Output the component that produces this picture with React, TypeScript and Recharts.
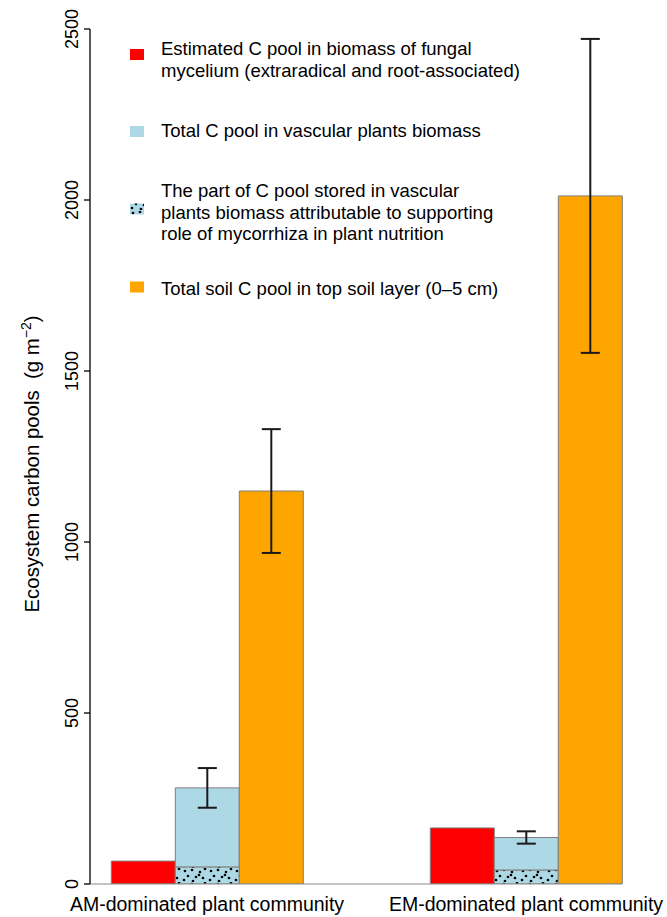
import React from 'react';
import { BarChart, Bar, XAxis, YAxis, ErrorBar } from 'recharts';

const categories = ['AM-dominated plant community', 'EM-dominated plant community'];
const fungalC = [67, 164];
const plantTotalC = [281, 136];
const plantMycorrhizalC = [50, 41];
const plantErr = [58, 18];
const soilC = [1149, 2012];
const soilErr = [181, 459];
const yTicks = [0, 500, 1000, 1500, 2000, 2500];

const legendItems = [
  { key: 'fungal', lines: ['Estimated C pool in biomass of fungal', 'mycelium (extraradical and root-associated)'] },
  { key: 'plant', lines: ['Total C pool in vascular plants biomass'] },
  { key: 'myco', lines: ['The part of C pool stored in vascular', 'plants biomass attributable to supporting', 'role of mycorrhiza in plant nutrition'] },
  { key: 'soil', lines: ['Total soil C pool in top soil layer (0\u20135 cm)'] },
];

const data = categories.map((name, i) => ({
  name,
  fungal: fungalC[i],
  myco: plantMycorrhizalC[i],
  plantRest: plantTotalC[i] - plantMycorrhizalC[i],
  plantErr: plantErr[i],
  soil: soilC[i],
  soilErr: soilErr[i],
}));

const FONT = '"Liberation Sans", Arial, Helvetica, sans-serif';
const RED = '#FF0000';
const BLUE = '#ADD8E6';
const ORANGE = '#FFA500';
const BORDER = '#7f7f7f';

const legendFill: Record<string, string> = {
  fungal: RED,
  plant: BLUE,
  myco: 'url(#stippleLegend)',
  soil: ORANGE,
};
const legendLayout = [
  { sq: 54.5, base: 55 },
  { sq: 131.5, base: 137 },
  { sq: 209, base: 197 },
  { sq: 287, base: 295 },
];

const dots: [number, number][] = [
  [3, 3], [10, 2], [18, 4], [23, 1], [6, 8], [14, 9], [21, 10], [2, 12], [11, 13], [17, 7],
];

const StipplePattern = ({ id }: { id: string }) => (
  <pattern id={id} x={0} y={0} width={26} height={14} patternUnits="userSpaceOnUse">
    <rect x={0} y={0} width={26} height={14} fill={BLUE} />
    {dots.map(([cx, cy], i) => (
      <circle key={i} cx={cx} cy={cy} r={1.35} fill="#000" />
    ))}
  </pattern>
);

const renderXTick = (props: any) => {
  const { x, payload } = props;
  return (
    <text x={x} y={911} textAnchor="middle" fontSize={19.5} fontFamily={FONT} fill="#000">
      {payload.value}
    </text>
  );
};

const renderYTick = (props: any) => {
  const { y, payload } = props;
  return (
    <text
      x={78}
      y={y}
      transform={`rotate(-90, 78, ${y})`}
      textAnchor="middle"
      fontSize={18}
      fontFamily={FONT}
      fill="#000"
    >
      {payload.value}
    </text>
  );
};

export default function App() {
  return (
    <div style={{ position: 'absolute', left: 0, top: 0, width: 667, height: 917, background: '#fff' }}>
      <BarChart
        width={667}
        height={917}
        data={data}
        margin={{ top: 29, right: 45, bottom: 0, left: 0 }}
        barCategoryGap="20%"
        barGap={0}
      >
        <defs>
          <StipplePattern id="stipple" />
        </defs>
        <XAxis
          dataKey="name"
          height={33}
          axisLine={{ stroke: '#8c8c8c', strokeWidth: 1 }}
          tickLine={false}
          interval={0}
          padding={{ left: -42.5, right: -63.5 }}
          tick={renderXTick}
        />
        <YAxis
          type="number"
          domain={[0, 2500]}
          ticks={yTicks}
          width={90}
          tickSize={6}
          interval={0}
          allowDataOverflow
          axisLine={{ stroke: '#000', strokeWidth: 1.3 }}
          tickLine={{ stroke: '#000', strokeWidth: 1.3 }}
          tick={renderYTick}
        />
        <Bar dataKey="fungal" stackId="s1" fill={RED} stroke={BORDER} strokeWidth={1} isAnimationActive={false} />
        <Bar dataKey="myco" stackId="s2" fill="url(#stipple)" stroke={BORDER} strokeWidth={1} isAnimationActive={false} />
        <Bar dataKey="plantRest" stackId="s2" fill={BLUE} stroke={BORDER} strokeWidth={1} isAnimationActive={false}>
          <ErrorBar dataKey="plantErr" width={9.5} stroke="#1a1a1a" strokeWidth={2} isAnimationActive={false} />
        </Bar>
        <Bar dataKey="soil" stackId="s3" fill={ORANGE} stroke={BORDER} strokeWidth={1} isAnimationActive={false}>
          <ErrorBar dataKey="soilErr" width={9.5} stroke="#1a1a1a" strokeWidth={2} isAnimationActive={false} />
        </Bar>
      </BarChart>
      <svg
        width={667}
        height={917}
        style={{ position: 'absolute', left: 0, top: 0, pointerEvents: 'none' }}
      >
        <defs>
          <StipplePattern id="stippleLegend" />
        </defs>
        {legendItems.map((item, i) => (
          <g key={item.key}>
            <rect
              x={130}
              y={legendLayout[i].sq - 5.5}
              width={14}
              height={11}
              fill={legendFill[item.key]}
            />
            {item.lines.map((line, j) => (
              <text
                key={j}
                x={161}
                y={legendLayout[i].base + j * 21.5}
                fontSize={18.5}
                fontFamily={FONT}
                fill="#000"
              >
                {line}
              </text>
            ))}
          </g>
        ))}
        <text
          x={-464}
          y={39}
          transform="rotate(-90)"
          textAnchor="middle"
          fontSize={20.4}
          fontFamily={FONT}
          fill="#000"
          style={{ whiteSpace: 'pre' }}
        >
          {'Ecosystem carbon pools  (g m'}
          <tspan dy={-8} fontSize={14}>{'\u22122'}</tspan>
          <tspan dy={8}>)</tspan>
        </text>
      </svg>
    </div>
  );
}
